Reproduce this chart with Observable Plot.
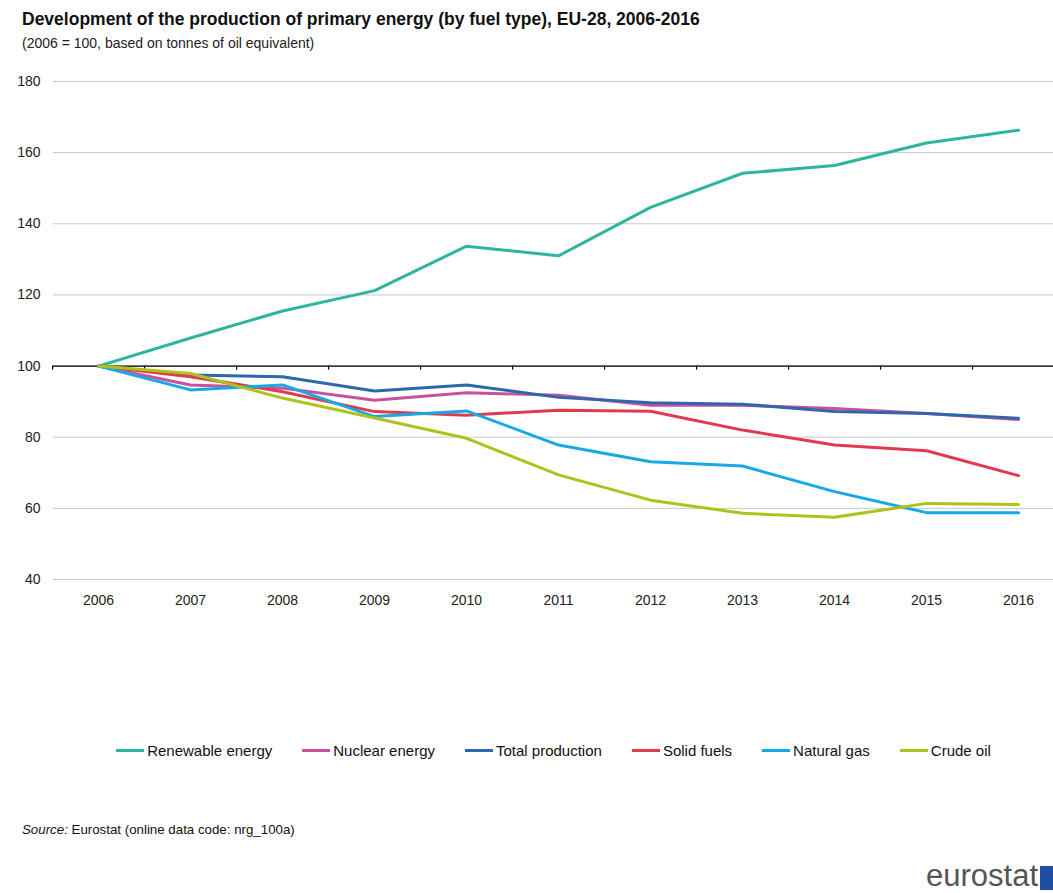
<!DOCTYPE html>
<html><head><meta charset="utf-8">
<script src="https://cdn.jsdelivr.net/npm/d3@7"></script>
<script src="https://cdn.jsdelivr.net/npm/@observablehq/plot@0.6"></script>
<style>
body{margin:0;background:#fff;font-family:"Liberation Sans Narrow","Arial Narrow","Liberation Sans",Arial,sans-serif;color:#111}
#wrap{position:relative;width:1053px;height:893px;overflow:hidden}
#title{position:absolute;left:22px;top:9px;font-size:17.5px;font-weight:bold}
#subtitle{position:absolute;left:22px;top:35px;font-size:14px;color:#222}
#chart{position:absolute;left:0;top:60px}
#legend{position:absolute;left:0;width:1053px;top:742px;display:flex;justify-content:center;gap:30px;font-size:15px;padding-left:54px;box-sizing:border-box}
.item{display:flex;align-items:center}
.sw{width:28px;height:3px;margin-right:3px}
#source{position:absolute;left:22px;top:822px;font-size:13.3px}
#logo{position:absolute;left:926px;top:858px;font-size:31px;color:#555;font-family:"Liberation Sans","Arial",sans-serif}
#logobox{position:absolute;left:1040px;top:866px;width:16px;height:24px;background:#1f4fa0}
</style></head><body>
<div id="wrap">
<div id="title">Development of the production of primary energy (by fuel type), EU-28, 2006-2016</div>
<div id="subtitle">(2006 = 100, based on tonnes of oil equivalent)</div>
<div id="chart"></div>
<div id="legend"></div>
<div id="source"><i>Source:</i> Eurostat (online data code: nrg_100a)</div>
<div id="logo">eurostat</div>
<div id="logobox"></div>
</div>
<script>
const years = [2006, 2007, 2008, 2009, 2010, 2011, 2012, 2013, 2014, 2015, 2016];
const renewable = [100, 107.9, 115.5, 121.2, 133.7, 131.0, 144.6, 154.2, 156.4, 162.7, 166.3];
const nuclear   = [100, 94.7, 93.8, 90.4, 92.5, 91.8, 89.0, 89.0, 88.1, 86.7, 85.0];
const total     = [100, 97.5, 97.0, 93.0, 94.7, 91.2, 89.7, 89.3, 87.2, 86.7, 85.3];
const solid     = [100, 97.0, 92.8, 87.2, 86.2, 87.6, 87.3, 82.0, 77.8, 76.2, 69.2];
const gas       = [100, 93.3, 94.7, 85.8, 87.4, 77.8, 73.1, 71.9, 64.7, 58.8, 58.8];
const crude     = [100, 97.9, 91.0, 85.4, 79.7, 69.4, 62.3, 58.6, 57.5, 61.4, 61.1];
const seriesNames = ["Renewable energy", "Nuclear energy", "Total production", "Solid fuels", "Natural gas", "Crude oil"];
const seriesValues = [renewable, nuclear, total, solid, gas, crude];
const colors = ["#2db59d", "#c8519e", "#2e67ae", "#e23a4d", "#17a9e6", "#adc31c"];
const yTicks = [40, 60, 80, 100, 120, 140, 160, 180];

const data = seriesNames.flatMap((name, i) => years.map((yr, j) => ({series: name, year: yr, value: seriesValues[i][j]})));
const bandTicks = years.map(y => y - 0.5);

const chart = Plot.plot({
  width: 1053,
  height: 560,
  marginLeft: 53,
  marginRight: 0,
  marginTop: 21,
  marginBottom: 41,
  style: {fontFamily: '"Liberation Sans Narrow","Arial Narrow","Liberation Sans",Arial,sans-serif', fontSize: "14px", color: "#222"},
  x: {domain: [2005.51, 2016.38], axis: null},
  y: {domain: [40, 180], axis: null},
  color: {domain: seriesNames, range: colors},
  marks: [
    Plot.gridY(yTicks, {stroke: "#c8c8c8", strokeOpacity: 1}),
    Plot.axisY({ticks: yTicks, tickSize: 0, tickPadding: 13, fontSize: 14, label: null}),
    Plot.axisX({ticks: years, tickSize: 0, tickPadding: 16, tickFormat: d => String(d), fontSize: 14, label: null}),
    Plot.ruleY([100], {stroke: "#000", strokeWidth: 1.3}),
    Plot.ruleX(bandTicks, {x: d => d, y1: 100, y2: 98.85, stroke: "#000", strokeWidth: 1.2}),
    Plot.line(data, {x: "year", y: "value", z: "series", stroke: "series", strokeWidth: 3, strokeLinejoin: "round"})
  ]
});
document.getElementById("chart").appendChild(chart);

const legend = document.getElementById("legend");
seriesNames.forEach((name, i) => {
  const it = document.createElement("div");
  it.className = "item";
  const sw = document.createElement("span");
  sw.className = "sw";
  sw.style.background = colors[i];
  const t = document.createElement("span");
  t.textContent = name;
  it.appendChild(sw); it.appendChild(t);
  legend.appendChild(it);
});
</script>
</body></html>
